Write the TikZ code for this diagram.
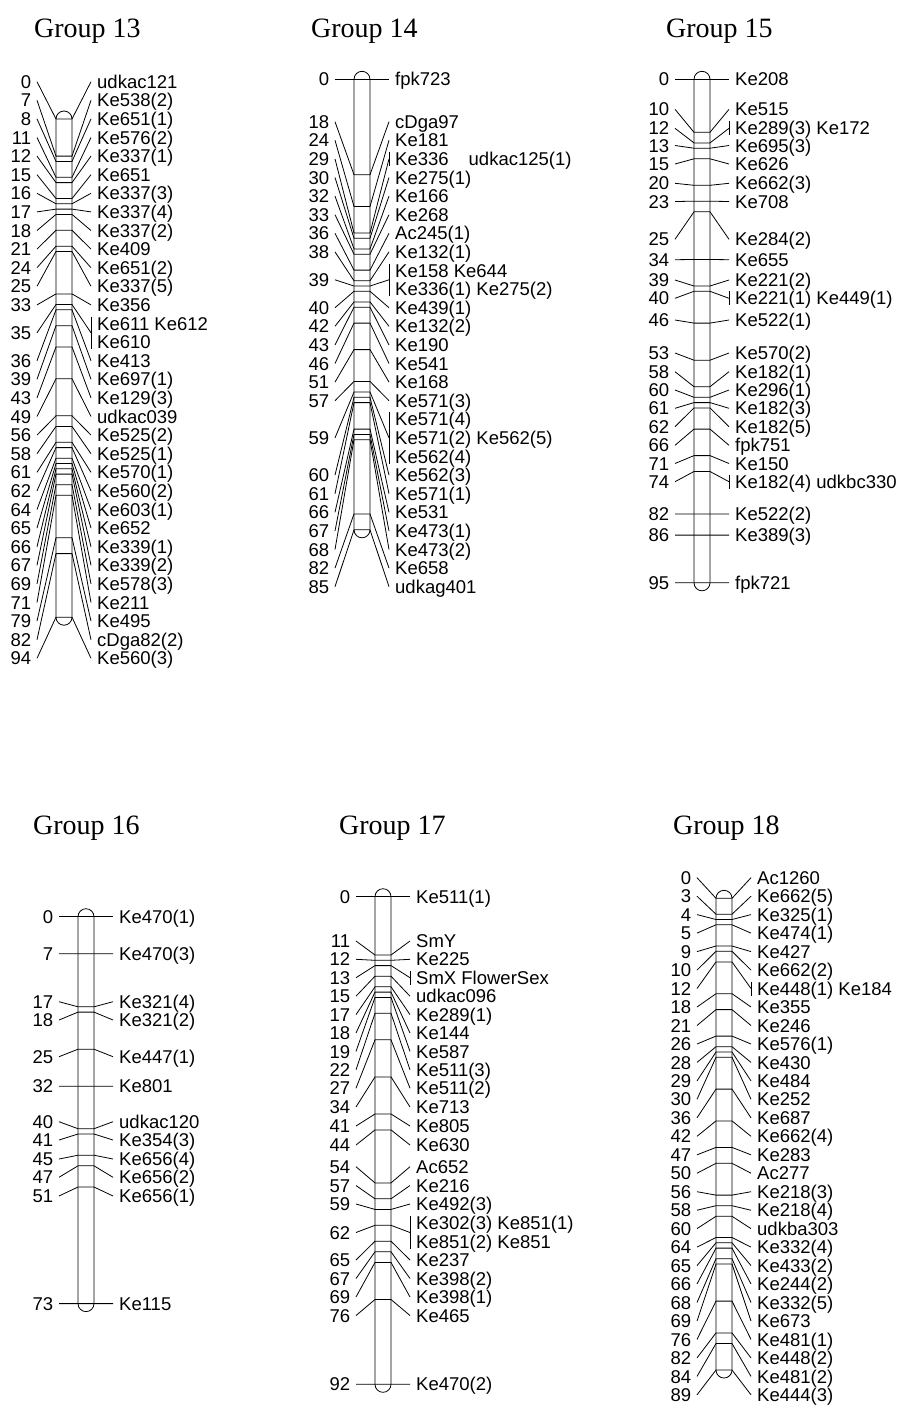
\documentclass[tikz,border=0pt]{standalone}
\usepackage{fontspec}
\setmainfont{Liberation Serif}
\newfontfamily\labfont{Liberation Sans}

% one linkage group: #1 name, #2 left edge of bar, #3 y of 0 cM, #4 length (cM), #5 loci
\newcommand{\linkgroup}[5]{%
  \draw[chrom] (#2,#3) -- (#2,{#3+5.3*#4}) arc[start angle=180, end angle=360, radius=8pt]
    -- ({#2+16},#3) arc[start angle=0, end angle=180, radius=8pt] -- cycle;
  \foreach \pos/\ly/\lab/\nm/\hb [count=\i] in {#5} {
    \coordinate (#1l\i) at (#2,{#3+5.3*\pos});
    \coordinate (#1r\i) at ({#2+16},{#3+5.3*\pos});
    \coordinate (#1b\i) at ({#2+35},\ly);
    \node[cmnum] (#1n\i) at ({#2-19},\ly) {\lab};
    \node[locus] (#1m\i) at ({#2+35},{\ly-max(\hb-7,0)}) {\nm};
    \draw[link] (#1n\i.east) -- (#1l\i) -- (#1r\i) -- (#1b\i);
    \ifdim\hb pt>0pt
      \draw[link] ([yshift=\hb pt]#1b\i) -- ([yshift=-\hb pt]#1b\i);
    \fi
  }%
}

\begin{document}
\begin{tikzpicture}[
    x=1pt, y=-1pt,
    chrom/.style={line width=0.8pt},
    link/.style={line width=0.8pt},
    locus/.style={font=\labfont\fontsize{18.5}{20}\selectfont, anchor=west, inner xsep=6pt, inner ysep=0pt, text height=13.2pt, text depth=0pt},
    cmnum/.style={locus, anchor=east, inner xsep=5.6pt},
    grouptitle/.style={font=\fontsize{28}{30}\selectfont, anchor=base west, inner sep=0pt}
]
    \useasboundingbox (0,0) rectangle (900,1406);

    % titles
    \node[grouptitle] (t13) at (34,37) {Group 13};
    \node[grouptitle] (t14) at (311,37) {Group 14};
    \node[grouptitle] (t15) at (666,37) {Group 15};
    \node[grouptitle] (t16) at (33,834.5) {Group 16};
    \node[grouptitle] (t17) at (339,834.5) {Group 17};
    \node[grouptitle] (t18) at (673,834.5) {Group 18};

    % Group 13
    \linkgroup{g13}{56}{119}{94}{
      0/81.7/0/udkac121/0, 7/100.3/7/Ke538(2)/0, 8/118.9/8/Ke651(1)/0,
      11/137.5/11/Ke576(2)/0, 12/156.1/12/Ke337(1)/0, 15/174.7/15/Ke651/0,
      16/193.3/16/Ke337(3)/0, 17/211.9/17/Ke337(4)/0, 18/230.5/18/Ke337(2)/0,
      21/249.1/21/Ke409/0, 24/267.7/24/Ke651(2)/0, 25/286.3/25/Ke337(5)/0,
      33/304.9/33/Ke356/0, 35/332.8/35/Ke611 Ke612/16.3, 36/360.7/36/Ke413/0,
      39/379.3/39/Ke697(1)/0, 43/397.9/43/Ke129(3)/0, 49/416.5/49/udkac039/0,
      56/435.1/56/Ke525(2)/0, 58/453.7/58/Ke525(1)/0, 61/472.3/61/Ke570(1)/0,
      62/490.9/62/Ke560(2)/0, 64/509.5/64/Ke603(1)/0, 65/528.1/65/Ke652/0,
      66/546.7/66/Ke339(1)/0, 67/565.3/67/Ke339(2)/0, 69/583.9/69/Ke578(3)/0,
      71/602.5/71/Ke211/0, 79/621.1/79/Ke495/0, 82/639.7/82/cDga82(2)/0,
      94/658.3/94/Ke560(3)/0}
    \node[locus] (g13m14x) at ([yshift=-18.6pt]g13m14.west) {Ke610};

    % Group 14
    \linkgroup{g14}{354}{79.3}{85}{
      0/79.3/0/fpk723/0, 18/121.7/18/cDga97/0, 24/140.3/24/Ke181/0,
      29/158.9/29/Ke336\hspace{20pt}udkac125(1)/7, 30/177.5/30/Ke275(1)/0,
      32/196.1/32/Ke166/0, 33/214.7/33/Ke268/0, 36/233.3/36/Ac245(1)/0,
      38/251.9/38/Ke132(1)/0, 39/279.8/39/Ke158 Ke644/16.3, 40/307.7/40/Ke439(1)/0,
      42/326.3/42/Ke132(2)/0, 43/344.9/43/Ke190/0, 46/363.5/46/Ke541/0,
      51/382.1/51/Ke168/0, 57/400.7/57/Ke571(3)/0, 59/437.9/59/Ke571(4)/25.6,
      60/475.1/60/Ke562(3)/0, 61/493.7/61/Ke571(1)/0, 66/512.3/66/Ke531/0,
      67/530.9/67/Ke473(1)/0, 68/549.5/68/Ke473(2)/0, 82/568.1/82/Ke658/0,
      85/586.7/85/udkag401/0}
    \node[locus] (g14m10x) at ([yshift=-18.6pt]g14m10.west) {Ke336(1) Ke275(2)};
    \node[locus] (g14m17x) at ([yshift=-18.6pt]g14m17.west) {Ke571(2) Ke562(5)};
    \node[locus] (g14m17y) at ([yshift=-18.6pt]g14m17x.west) {Ke562(4)};

    % Group 15
    \linkgroup{g15}{694}{79.3}{95}{
      0/79.3/0/Ke208/0, 10/109.3/10/Ke515/0, 12/128.3/12/Ke289(3) Ke172/7,
      13/145.5/13/Ke695(3)/0, 15/164/15/Ke626/0, 20/183.3/20/Ke662(3)/0,
      23/201.5/23/Ke708/0, 25/239.3/25/Ke284(2)/0, 34/259.7/34/Ke655/0,
      39/280/39/Ke221(2)/0, 40/298.3/40/Ke221(1) Ke449(1)/7, 46/320/46/Ke522(1)/0,
      53/353/53/Ke570(2)/0, 58/371.7/58/Ke182(1)/0, 60/390/60/Ke296(1)/0,
      61/408.3/61/Ke182(3)/0, 62/426.7/62/Ke182(5)/0, 66/445.3/66/fpk751/0,
      71/463.5/71/Ke150/0, 74/481.7/74/Ke182(4) udkbc330/7, 82/513.9/82/Ke522(2)/0,
      86/535.1/86/Ke389(3)/0, 95/582.8/95/fpk721/0}

    % Group 16
    \linkgroup{g16}{78}{916.7}{73}{
      0/916.7/0/Ke470(1)/0, 7/953.8/7/Ke470(3)/0, 17/1001.7/17/Ke321(4)/0,
      18/1020/18/Ke321(2)/0, 25/1056.7/25/Ke447(1)/0, 32/1086.3/32/Ke801/0,
      40/1121.7/40/udkac120/0, 41/1140/41/Ke354(3)/0, 45/1159/45/Ke656(4)/0,
      47/1177.3/47/Ke656(2)/0, 51/1196/51/Ke656(1)/0, 73/1303.6/73/Ke115/0}

    % Group 17
    \linkgroup{g17}{375}{896.7}{92}{
      0/896.7/0/Ke511(1)/0, 11/941/11/SmY/0, 12/959.3/12/Ke225/0,
      13/977.7/13/SmX FlowerSex/7, 15/996.2/15/udkac096/0, 17/1014.6/17/Ke289(1)/0,
      18/1033/18/Ke144/0, 19/1051.4/19/Ke587/0, 22/1069.8/22/Ke511(3)/0,
      27/1088.2/27/Ke511(2)/0, 34/1107/34/Ke713/0, 41/1126/41/Ke805/0,
      44/1145/44/Ke630/0, 54/1166.7/54/Ac652/0, 57/1185.5/57/Ke216/0,
      59/1204/59/Ke492(3)/0, 62/1232.5/62/Ke302(3) Ke851(1)/16.3, 65/1260/65/Ke237/0,
      67/1278.5/67/Ke398(2)/0, 69/1297/69/Ke398(1)/0, 76/1315.5/76/Ke465/0,
      92/1384.3/92/Ke470(2)/0}
    \node[locus] (g17m17x) at ([yshift=-18.6pt]g17m17.west) {Ke851(2) Ke851};

    % Group 18
    \linkgroup{g18}{716}{898.3}{89}{
      0/877.7/0/Ac1260/0, 3/896.2/3/Ke662(5)/0, 4/914.6/4/Ke325(1)/0,
      5/933.1/5/Ke474(1)/0, 9/951.6/9/Ke427/0, 10/970.1/10/Ke662(2)/0,
      12/988.5/12/Ke448(1) Ke184/7, 18/1007/18/Ke355/0, 21/1025.5/21/Ke246/0,
      26/1044/26/Ke576(1)/0, 28/1062.4/28/Ke430/0, 29/1080.9/29/Ke484/0,
      30/1099.3/30/Ke252/0, 36/1117.8/36/Ke687/0, 42/1136.3/42/Ke662(4)/0,
      47/1154.8/47/Ke283/0, 50/1173.2/50/Ac277/0, 56/1191.7/56/Ke218(3)/0,
      58/1210.2/58/Ke218(4)/0, 60/1228.6/60/udkba303/0, 64/1247.1/64/Ke332(4)/0,
      65/1265.6/65/Ke433(2)/0, 66/1284/66/Ke244(2)/0, 68/1302.5/68/Ke332(5)/0,
      69/1321/69/Ke673/0, 76/1339.4/76/Ke481(1)/0, 82/1357.9/82/Ke448(2)/0,
      84/1376.4/84/Ke481(2)/0, 89/1394.8/89/Ke444(3)/0}
\end{tikzpicture}
\end{document}
